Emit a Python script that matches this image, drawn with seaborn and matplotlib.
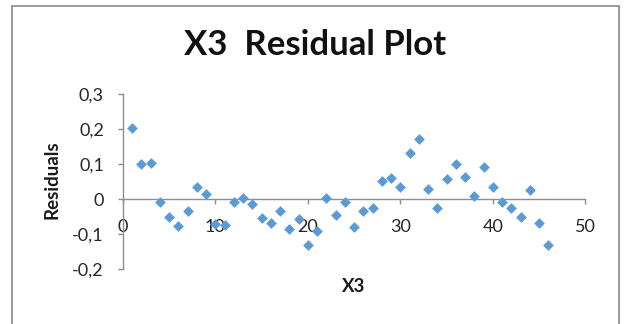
import matplotlib
matplotlib.use("Agg")
import matplotlib.pyplot as plt
from matplotlib.lines import Line2D
import numpy as np
import pandas as pd
import seaborn as sns

# Observation index and residuals for the X3 regressor
x3 = list(range(1, 47))
residuals = [
    0.202, 0.099, 0.102, -0.009, -0.052, -0.077, -0.034, 0.033, 0.014, -0.072,
    -0.074, -0.009, 0.002, -0.015, -0.053, -0.068, -0.034, -0.086, -0.058, -0.131,
    -0.091, 0.004, -0.046, -0.008, -0.079, -0.033, -0.025, 0.051, 0.059, 0.033,
    0.132, 0.171, 0.028, -0.025, 0.056, 0.099, 0.064, 0.009, 0.091, 0.033,
    -0.008, -0.025, -0.050, 0.025, -0.069, -0.131,
]

x_ticks = [0, 10, 20, 30, 40, 50]
y_ticks = [-0.2, -0.1, 0.0, 0.1, 0.2, 0.3]
y_tick_labels = ["-0,2", "-0,1", "0", "0,1", "0,2", "0,3"]

title = "X3  Residual Plot"
x_label = "X3"
y_label = "Residuals"

sns.set_style("white")
plt.rcParams["font.family"] = ["Lato", "DejaVu Sans"]

W, H = 624, 324
fig = plt.figure(figsize=(W / 100, H / 100), dpi=100)
fig.patch.set_facecolor("white")

# plot area in pixel coordinates
left_px, right_px = 122.8, 585.3
top_px, bottom_px = 94.0, 269.0
ax = fig.add_axes([left_px / W, 1 - bottom_px / H,
                   (right_px - left_px) / W, (bottom_px - top_px) / H])

df = pd.DataFrame({"X3": x3, "Residuals": residuals})
sns.scatterplot(data=df, x="X3", y="Residuals", ax=ax, marker="D",
                color="#5B9BD5", s=30, linewidth=0, clip_on=False, zorder=3)

ax.set_xlim(0, 50)
ax.set_ylim(-0.2, 0.3)
ax.set_xticks(x_ticks)
ax.set_xticklabels([str(t) for t in x_ticks])
ax.set_yticks(y_ticks)
ax.set_yticklabels(y_tick_labels)

axis_grey = "#8E8E8E"
for side in ("top", "right"):
    ax.spines[side].set_visible(False)
ax.spines["left"].set_position(("data", 0))
ax.spines["bottom"].set_position(("data", 0))
for side in ("left", "bottom"):
    ax.spines[side].set_color(axis_grey)
    ax.spines[side].set_linewidth(1.0)

tick_fs = 13
ax.tick_params(axis="y", direction="out", length=3.6, width=1.0, color=axis_grey,
               labelsize=tick_fs, labelcolor="#262626", pad=10, left=True)
ax.tick_params(axis="x", direction="out", length=3.6, width=1.0, color=axis_grey,
               labelsize=tick_fs, labelcolor="#262626", pad=11, bottom=True)

ax.set_xlabel(x_label, fontsize=13.5, fontweight="bold", color="#1a1a1a", va="center")
ax.set_ylabel(y_label, fontsize=13.5, fontweight="bold", color="#1a1a1a", va="center")
ax.xaxis.set_label_coords(0.5, (bottom_px - 287) / (bottom_px - top_px))
ax.yaxis.set_label_coords((52 - left_px) / (right_px - left_px),
                          (bottom_px - 180) / (bottom_px - top_px))

fig.text(315 / W, 1 - 45 / H, title, ha="center", va="center",
         fontsize=25, fontweight="bold", color="#111111")

# chart-area frame
frame_c = "#8A8A8A"
fx0, fx1, fy = 11.5 / W, 618.5 / W, 1 - 5.5 / H
for xs, ys in (([fx0, fx0], [-0.05, fy]), ([fx0, fx1], [fy, fy]), ([fx1, fx1], [fy, -0.05])):
    fig.add_artist(Line2D(xs, ys, transform=fig.transFigure, color=frame_c, lw=1.2))

fig.savefig("out.png", dpi=100, facecolor="white")
